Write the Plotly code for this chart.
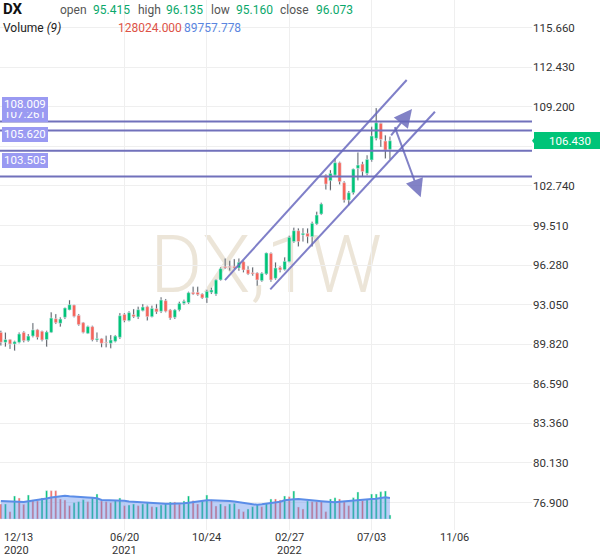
import plotly.graph_objects as go
import pandas as pd

# ---------------- data ----------------
week_start = "2020-12-13"
n_weeks = 86
dates = pd.date_range(week_start, periods=n_weeks, freq="7D")

opens = [90.79, 89.98, 90.20, 89.84, 89.98, 90.79, 90.11, 90.49, 91.01, 90.88,
         90.20, 90.79, 91.91, 91.53, 92.02, 92.62, 93.02, 92.18, 91.58, 90.71,
         91.26, 90.17, 90.28, 89.98, 89.90, 90.06, 90.39, 92.26, 91.75, 92.24,
         92.05, 92.56, 92.89, 92.07, 92.73, 92.51, 93.38, 92.62, 92.02, 92.62,
         93.16, 93.22, 94.06, 94.06, 93.92, 93.60, 94.06, 93.92, 95.07, 96.15,
         96.18, 96.18, 96.05, 96.56, 95.91, 95.66, 95.64, 95.01, 95.56, 97.24,
         95.20, 96.10, 95.91, 96.56, 98.20, 99.09, 98.74, 98.88, 98.60, 99.64,
         100.45, 103.62, 103.17, 103.63, 104.64, 103.01, 101.59, 102.19, 104.18, 104.53,
         103.77, 104.86, 106.63, 107.85, 106.41, 105.73]
highs = [90.93, 90.79, 90.25, 90.11, 90.79, 90.88, 90.66, 91.56, 91.07, 90.93,
         90.93, 92.43, 92.29, 92.02, 92.83, 93.43, 93.05, 92.29, 91.64, 91.34,
         91.34, 90.79, 90.33, 90.52, 90.58, 90.58, 92.37, 92.37, 92.51, 92.70,
         92.89, 93.11, 92.97, 92.97, 93.11, 93.65, 93.52, 92.70, 92.70, 93.30,
         93.46, 94.11, 94.52, 94.52, 93.98, 94.28, 94.44, 95.15, 96.10, 96.83,
         96.64, 96.78, 96.83, 96.64, 96.18, 96.10, 95.69, 95.69, 97.32, 97.32,
         96.51, 96.18, 96.92, 98.68, 99.34, 99.28, 99.28, 99.28, 99.83, 100.64,
         101.38, 103.70, 104.05, 104.98, 104.71, 103.13, 102.32, 104.17, 105.47, 104.71,
         105.25, 107.57, 109.10, 107.90, 106.89, 106.75]
lows = [89.71, 89.62, 89.43, 89.30, 89.90, 89.98, 90.03, 90.39, 90.20, 90.06,
        89.62, 90.74, 91.47, 91.26, 91.88, 92.60, 92.02, 91.34, 90.71, 90.66,
        90.06, 90.03, 89.57, 89.57, 89.49, 89.98, 90.25, 91.61, 91.69, 91.96,
        91.88, 92.51, 91.75, 92.02, 92.29, 92.37, 92.43, 91.83, 91.88, 92.51,
        93.05, 93.11, 93.84, 93.79, 93.52, 93.19, 93.92, 93.79, 95.01, 95.96,
        95.83, 95.96, 95.83, 95.69, 95.47, 95.42, 94.60, 94.93, 95.47, 94.93,
        95.09, 95.69, 95.85, 96.51, 98.11, 97.79, 98.20, 98.06, 97.79, 99.56,
        100.37, 102.45, 102.40, 103.49, 102.86, 101.39, 101.17, 102.04, 103.21, 103.49,
        103.62, 104.71, 106.48, 105.93, 104.98, 104.93]
closes = [89.98, 90.20, 89.84, 90.03, 90.66, 90.11, 90.49, 90.99, 90.39, 90.17,
          90.82, 91.96, 91.58, 91.88, 92.78, 93.05, 92.10, 91.42, 90.79, 91.26,
          90.17, 90.28, 89.90, 89.92, 90.17, 90.49, 92.15, 91.75, 92.40, 92.07,
          92.64, 92.86, 92.07, 92.75, 92.46, 93.43, 92.51, 91.96, 92.62, 93.16,
          93.33, 94.03, 93.92, 93.87, 93.60, 94.14, 94.25, 95.07, 95.99, 96.05,
          96.10, 96.05, 96.51, 95.88, 95.56, 95.56, 95.07, 95.61, 97.27, 95.07,
          96.05, 95.88, 96.59, 98.55, 99.09, 98.20, 98.88, 98.60, 99.69, 100.37,
          101.27, 102.89, 103.77, 104.64, 103.09, 101.59, 102.19, 104.12, 104.45, 103.91,
          104.91, 106.82, 107.90, 106.54, 105.67, 106.43]

# weekly volume (thousands) and its 9-period average
volumes_k = [67.5, 67.5, 33.0, 103.5, 94.5, 66.0, 108.0, 85.5, 81.0, 94.5,
             127.5, 127.5, 127.5, 90.0, 85.5, 60.0, 73.5, 78.0, 87.0, 78.0,
             94.5, 112.5, 81.0, 78.0, 73.5, 82.5, 94.5, 60.0, 63.0, 67.5,
             60.0, 67.5, 76.5, 55.5, 54.0, 63.0, 72.0, 76.5, 76.5, 67.5,
             81.0, 103.5, 82.5, 67.5, 81.0, 108.0, 85.5, 58.5, 67.5, 58.5,
             67.5, 70.5, 45.0, 33.0, 45.0, 55.5, 67.5, 55.5, 72.0, 90.0,
             90.0, 85.5, 103.5, 100.5, 126.0, 54.0, 45.0, 81.0, 78.0, 78.0,
             81.0, 33.0, 90.0, 96.0, 90.0, 78.0, 60.0, 96.0, 121.5, 82.5,
             87.0, 112.5, 112.5, 123.0, 126.0, 18.0]
volume_up = [0, 1, 0, 1, 0, 0, 1, 0, 0, 1, 1, 0, 0, 0, 0, 0, 1, 1, 1, 0,
             1, 1, 0, 0, 0, 1, 1, 0, 1, 1, 0, 1, 1, 0, 1, 1, 1, 1, 0, 0,
             1, 1, 0, 0,
             1, 1, 0, 0, 1, 0, 1, 1, 0, 0, 1, 1, 1, 0, 1, 1, 0, 0, 1, 0,
             1, 0, 0, 1, 0, 0, 0, 0, 1, 1, 0, 0, 0, 1, 1, 0, 1, 1, 1, 1,
             1, 1]
volume_ma_k = [81, 79.5, 78, 76.5, 75, 76.5, 79.5, 82.5, 84, 87,
               92.3, 96.8, 99, 102, 105, 102.8, 100.5, 98.3, 97.1, 96.5,
               95.3, 93, 85.5, 84.8, 84, 84, 84, 81.8, 78.8, 77.3,
               75.8, 74.3, 72, 70.5, 69, 67.5, 68.3, 69, 69, 69,
               70.5, 73.5, 76.5, 79.5, 84, 84, 84, 84, 84, 82.5,
               81, 78.8, 75.8, 72.8, 68.3, 64.5, 63.8, 66, 68.3, 70.5,
               74.3, 77.3, 84, 87.8, 89, 89.7, 88.5, 86.3, 84.8, 82.5,
               80.3, 78, 76.5, 75, 77.3, 79.5, 81.8, 83.3, 84, 85.5,
               87.8, 90, 91.5, 93, 97.5, 94.5]

y_ticks = [76.90, 80.13, 83.36, 86.59, 89.82, 93.05, 96.28, 99.51, 102.74,
           105.97, 109.20, 112.43, 115.66]
x_tick_dates = ["2021-06-20", "2021-10-24", "2022-02-27", "2022-07-03", "2022-11-06"]
x_tick_top = ["06/20", "10/24", "02/27", "07/03", "11/06"]
x_tick_year = ["2021", "", "2022", "", ""]
first_tick_top, first_tick_year = "12/13", "2020"

level_values = [107.261, 108.009, 105.620, 103.505]
channel_upper_x = ["2021-11-20 17:00", "2022-08-25 14:00"]
channel_upper_y = [95.06, 111.39]
channel_lower_x = ["2022-01-29 00:00", "2022-10-07 19:00"]
channel_lower_y = [94.30, 108.80]
arrow_tail_x = ["2022-07-31 00:00", "2022-08-06 14:00"]
arrow_tail_y = [106.74, 107.66]
arrow_tip_x = ["2022-09-02 17:00", "2022-09-16 00:00"]
arrow_tip_y = [109.02, 101.81]
last_price = 106.43

header_symbol = "DX"
header_labels = ["open", "high", "low", "close"]
header_values = ["95.415", "96.135", "95.160", "96.073"]
volume_title = "Volume <i>(9)</i>"
volume_values = ["128024.000", "89757.778"]
watermark = "DX,1W"

x_range = ["2020-12-11 17:00", "2023-03-05 05:00"]
y_range = [74.66, 117.92]

# ---------------- style ----------------
UP, DOWN = "#00c478", "#f6645a"
LEVEL = "#7171bb"
W, H = 600, 558
ML, MR, MT, MB = 0, 68, 0, 28
PW, PH = W - ML - MR, H - MT - MB
DAY = 86400000


def px_x(px):
    return px / PW


def px_y(py):
    return 1 - py / PH


body_base = [min(o, c) for o, c in zip(opens, closes)]
body_len = [max(abs(c - o), 0.05) for o, c in zip(opens, closes)]
body_col = [UP if c >= o else DOWN for o, c in zip(opens, closes)]
wick_len = [h - l for h, l in zip(highs, lows)]
vol_col = [UP if u else DOWN for u in volume_up]

# the tick hidden under the last-price badge keeps its grid line but no label
y_ticktext = ["" if abs(v - last_price) < 1.0 else f"{v:.3f}" for v in y_ticks]

fig = go.Figure()
fig.add_trace(go.Bar(x=dates, y=volumes_k, yaxis="y2", marker_color=vol_col,
                     width=3.0 * DAY, hoverinfo="skip"))
fig.add_trace(go.Scatter(x=dates, y=volume_ma_k, yaxis="y2", mode="lines",
                         line=dict(color="#5b8de8", width=2), fill="tozeroy",
                         fillcolor="rgba(95,140,235,0.42)", hoverinfo="skip"))
fig.add_trace(go.Bar(x=dates, y=wick_len, base=lows, marker_color="#111111",
                     width=1.7 * DAY, hoverinfo="skip"))
fig.add_trace(go.Bar(x=dates, y=body_len, base=body_base, marker_color=body_col,
                     width=5.0 * DAY, hoverinfo="skip"))

shapes = []
for v in level_values:
    shapes.append(dict(type="line", xref="paper", x0=0, x1=1, yref="y", y0=v, y1=v,
                       line=dict(color=LEVEL, width=2)))
for xs, ys in [(channel_upper_x, channel_upper_y), (channel_lower_x, channel_lower_y)]:
    shapes.append(dict(type="line", xref="x", yref="y", x0=xs[0], x1=xs[1], y0=ys[0], y1=ys[1],
                       line=dict(color="rgba(105,105,190,0.85)", width=2)))
# watermark, below the traces
shapes.append(dict(type="rect", xref="x domain", yref="y domain", x0=0, x1=1,
                   y0=0.0226, y1=1.0, layer="below", line=dict(width=0),
                   fillcolor="rgba(0,0,0,0)",
                   label=dict(text=watermark, textposition="middle center",
                              font=dict(family="Roboto", size=80, weight=300,
                                        color="rgba(212,198,168,0.45)"))))
# notch of the last-price badge
shapes.append(dict(type="path", xref="paper", xsizemode="pixel", xanchor=1,
                   yref="y", ysizemode="pixel", yanchor=last_price,
                   path="M 0,0 L 3,4 L 3,-4 Z", fillcolor=UP, line=dict(width=0)))

ann = []
for i in range(2):
    ann.append(dict(x=arrow_tip_x[i], y=arrow_tip_y[i], xref="x", yref="y",
                    ax=arrow_tail_x[i], ay=arrow_tail_y[i], axref="x", ayref="y",
                    text="", showarrow=True, arrowhead=2, arrowsize=1.8, arrowwidth=2,
                    arrowcolor="rgba(100,100,185,0.8)"))
for v in level_values:
    ann.append(dict(xref="paper", x=px_x(2), xanchor="left", yref="y", y=v,
                    yanchor="bottom", yshift=9, text=f"{v:.3f}", showarrow=False,
                    bgcolor="#9a9af2", bordercolor="#9a9af2", borderwidth=1, borderpad=1,
                    height=10.5, font=dict(family="Roboto", size=11.5, color="white")))
ann.append(dict(xref="paper", x=1, xanchor="left", xshift=2, yref="y", y=last_price,
                yanchor="middle", text=f"{last_price:.3f}", showarrow=False,
                bgcolor=UP, bordercolor=UP, borderwidth=1, borderpad=1, width=68, height=13,
                font=dict(family="Roboto", size=11.5, color="white")))

# header
GREEN_T, GRAY_T = "#0aa86b", "#555555"
ann.append(dict(xref="paper", yref="paper", x=px_x(1), y=px_y(9), xanchor="left",
                yanchor="middle", showarrow=False, text=f"<b>{header_symbol}</b>",
                font=dict(family="Roboto", size=15, color="#111111")))
label_px = [58, 136, 209, 278]
value_px = [91, 164, 234, 314]
for lab, val, lx, vx in zip(header_labels, header_values, label_px, value_px):
    ann.append(dict(xref="paper", yref="paper", x=px_x(lx), y=px_y(9.5), xanchor="left",
                    yanchor="middle", showarrow=False, text=lab,
                    font=dict(family="Roboto", size=12, color=GRAY_T)))
    ann.append(dict(xref="paper", yref="paper", x=px_x(vx), y=px_y(9.5), xanchor="left",
                    yanchor="middle", showarrow=False, text=val,
                    font=dict(family="Roboto", size=12, color=GREEN_T)))
ann.append(dict(xref="paper", yref="paper", x=px_x(1), y=px_y(28), xanchor="left",
                yanchor="middle", showarrow=False, text=volume_title,
                font=dict(family="Roboto", size=12, color="#222222")))
for val, vx, col in zip(volume_values, [116, 182], ["#dd5347", "#5a86e0"]):
    ann.append(dict(xref="paper", yref="paper", x=px_x(vx), y=px_y(28), xanchor="left",
                    yanchor="middle", showarrow=False, text=val,
                    font=dict(family="Roboto", size=12, color=col)))

# x tick labels
TF = dict(family="Roboto", size=11, color="#333333")
ann.append(dict(xref="paper", yref="paper", x=px_x(2), y=px_y(537), xanchor="left",
                yanchor="middle", showarrow=False, text=first_tick_top, font=TF))
ann.append(dict(xref="paper", yref="paper", x=px_x(2), y=px_y(550), xanchor="left",
                yanchor="middle", showarrow=False, text=first_tick_year, font=TF))
for d, t, yr in zip(x_tick_dates, x_tick_top, x_tick_year):
    ann.append(dict(xref="x", yref="paper", x=d, y=px_y(537), xanchor="center",
                    yanchor="middle", showarrow=False, text=t, font=TF))
    if yr:
        ann.append(dict(xref="x", yref="paper", x=d, y=px_y(550), xanchor="center",
                        yanchor="middle", showarrow=False, text=yr, font=TF))

fig.update_layout(
    width=W, height=H, margin=dict(l=ML, r=MR, t=MT, b=MB),
    paper_bgcolor="white", plot_bgcolor="white",
    showlegend=False, barmode="overlay", hovermode=False,
    shapes=shapes, annotations=ann,
    xaxis=dict(type="date", range=x_range, tickvals=x_tick_dates, showticklabels=False,
               showgrid=True, gridcolor="#efefef", gridwidth=1, zeroline=False,
               showline=False, ticks=""),
    yaxis=dict(side="right", range=y_range, tickvals=y_ticks,
               ticktext=y_ticktext, showgrid=True,
               gridcolor="#efefef", zeroline=False, showline=False, ticks="",
               tickfont=dict(family="Roboto", size=11.5, color="#333333")),
    yaxis2=dict(overlaying="y", range=[-49.5, 2335.5], visible=False),
)

fig.write_html("out.html")
